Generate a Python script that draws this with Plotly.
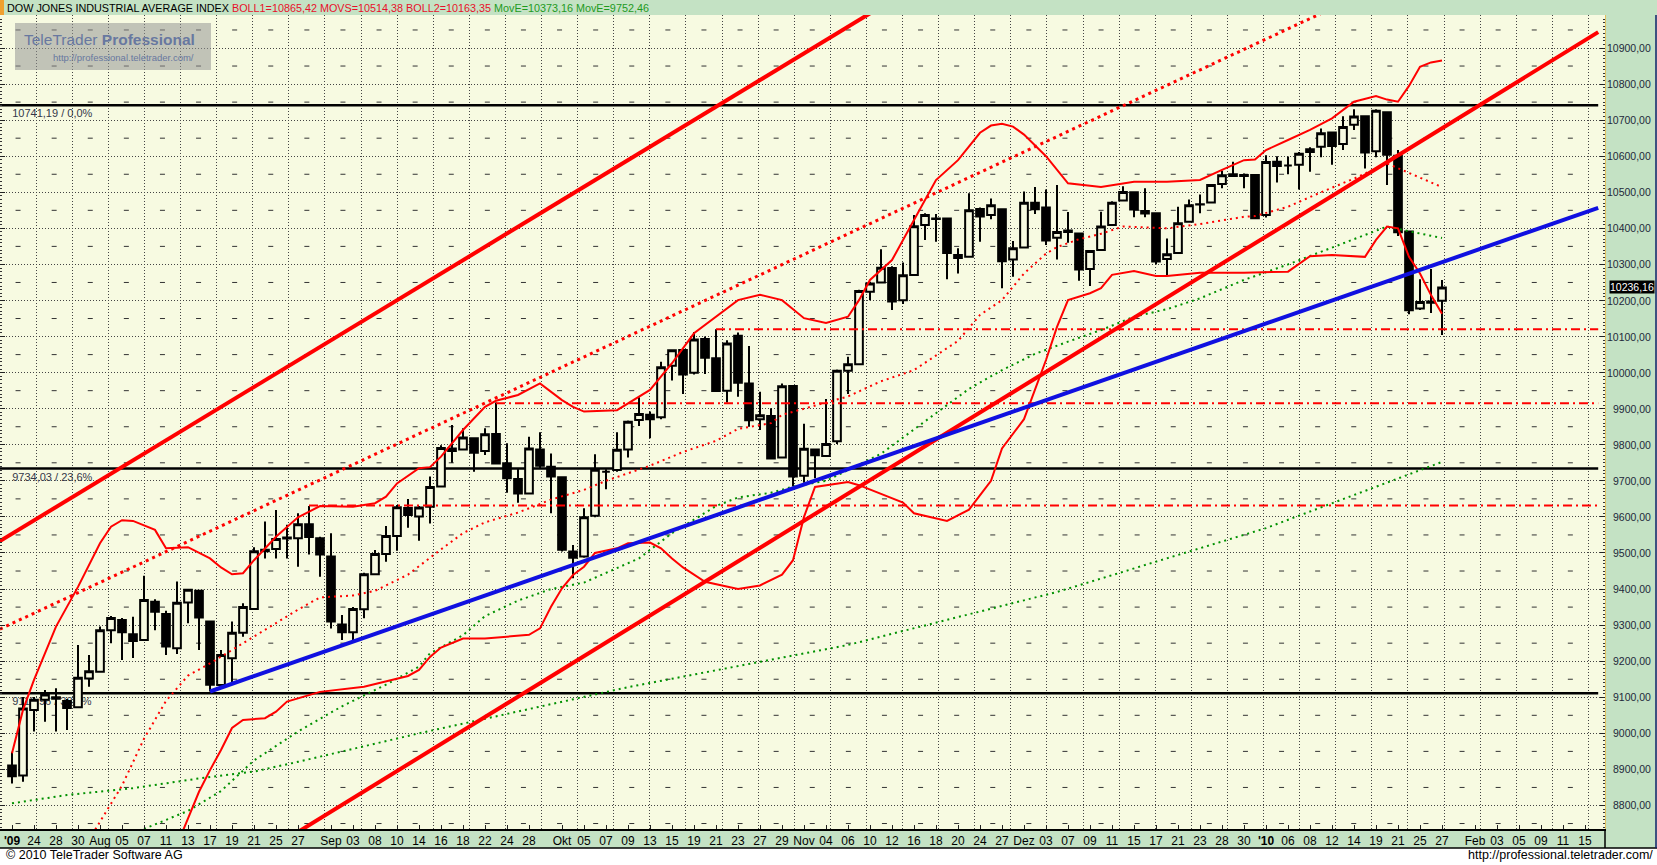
import plotly.graph_objects as go

# ---------------- DATA ----------------
trade_dates = [
    "2009-07-22","2009-07-23","2009-07-24","2009-07-27","2009-07-28","2009-07-29","2009-07-30","2009-07-31",
    "2009-08-03","2009-08-04","2009-08-05","2009-08-06","2009-08-07","2009-08-10","2009-08-11","2009-08-12",
    "2009-08-13","2009-08-14","2009-08-17","2009-08-18","2009-08-19","2009-08-20","2009-08-21","2009-08-24",
    "2009-08-25","2009-08-26","2009-08-27","2009-08-28","2009-08-31",
    "2009-09-01","2009-09-02","2009-09-03","2009-09-04","2009-09-08","2009-09-09","2009-09-10","2009-09-11",
    "2009-09-14","2009-09-15","2009-09-16","2009-09-17","2009-09-18","2009-09-21","2009-09-22","2009-09-23",
    "2009-09-24","2009-09-25","2009-09-28","2009-09-29","2009-09-30",
    "2009-10-01","2009-10-02","2009-10-05","2009-10-06","2009-10-07","2009-10-08","2009-10-09","2009-10-12",
    "2009-10-13","2009-10-14","2009-10-15","2009-10-16","2009-10-19","2009-10-20","2009-10-21","2009-10-22",
    "2009-10-23","2009-10-26","2009-10-27","2009-10-28","2009-10-29","2009-10-30",
    "2009-11-02","2009-11-03","2009-11-04","2009-11-05","2009-11-06","2009-11-09","2009-11-10","2009-11-11",
    "2009-11-12","2009-11-13","2009-11-16","2009-11-17","2009-11-18","2009-11-19","2009-11-20","2009-11-23",
    "2009-11-24","2009-11-25","2009-11-27","2009-11-30",
    "2009-12-01","2009-12-02","2009-12-03","2009-12-04","2009-12-07","2009-12-08","2009-12-09","2009-12-10",
    "2009-12-11","2009-12-14","2009-12-15","2009-12-16","2009-12-17","2009-12-18","2009-12-21","2009-12-22",
    "2009-12-23","2009-12-24","2009-12-28","2009-12-29","2009-12-30","2009-12-31",
    "2010-01-04","2010-01-05","2010-01-06","2010-01-07","2010-01-08","2010-01-11","2010-01-12","2010-01-13",
    "2010-01-14","2010-01-15","2010-01-19","2010-01-20","2010-01-21","2010-01-22","2010-01-25","2010-01-26",
    "2010-01-27",
]
future_dates = ["2010-01-28","2010-01-29","2010-02-01","2010-02-02","2010-02-03","2010-02-04","2010-02-05",
                "2010-02-08","2010-02-09","2010-02-10","2010-02-11","2010-02-12","2010-02-15"]

opens = [8911,8883,9065,9093,9100,9090,9072,9152,9171,9286,9314,9275,9259,9365,9331,9236,9363,9395,9310,9134,
         9208,9279,9345,9505,9511,9540,9541,9580,9541,9490,9302,9280,9344,9441,9497,9547,9625,9601,9628,9684,
         9790,9787,9818,9783,9830,9749,9705,9665,9787,9739,9710,9504,9490,9603,9725,9730,9787,9869,9883,9876,
         10019,10063,10000,10093,10040,9950,10102,9970,9871,9880,9765,9963,9714,9787,9769,9810,10005,10023,10224,10250,
         10290,10201,10271,10409,10427,10427,10326,10321,10454,10437,10453,10314,10347,10471,10458,10374,10394,10386,10287,10340,
         10409,10477,10500,10448,10442,10315,10332,10418,10467,10472,10523,10550,10545,10548,10437,10585,10574,10576,10612,10626,
         10666,10634,10687,10711,10614,10722,10601,10391,10178,10197,10199]
highs = [8949,9101,9101,9120,9125,9095,9245,9217,9296,9325,9320,9323,9437,9372,9340,9421,9400,9398,9312,9231,
         9310,9361,9516,9587,9619,9578,9610,9630,9545,9555,9328,9350,9445,9508,9575,9633,9650,9630,9712,9799,
         9855,9846,9820,9846,9917,9804,9735,9822,9835,9776,9712,9522,9624,9774,9732,9835,9867,9932,9892,10030,
         10063,10063,10113,10100,10120,10090,10111,10074,9947,9901,9970,9963,9858,9790,9927,10009,10044,10230,10252,10342,
         10295,10305,10437,10442,10440,10427,10345,10497,10458,10483,10455,10365,10502,10515,10508,10520,10445,10386,10340,10446,
         10475,10517,10500,10511,10442,10372,10460,10480,10494,10523,10560,10585,10552,10550,10603,10600,10599,10612,10625,10677,
         10666,10711,10730,10711,10730,10722,10617,10391,10259,10287,10257]
lows = [8861,8866,9005,9032,9005,9009,9070,9129,9171,9250,9203,9209,9259,9286,9217,9220,9305,9231,9116,9134,
        9134,9268,9345,9485,9485,9485,9462,9496,9434,9291,9259,9254,9319,9441,9476,9506,9570,9534,9582,9684,
        9750,9785,9725,9772,9745,9667,9639,9665,9735,9610,9504,9430,9487,9599,9677,9725,9765,9852,9818,9871,
        9978,9941,9995,9996,9949,9917,9933,9850,9841,9760,9762,9684,9695,9707,9769,9802,9941,10023,10201,10247,
        10174,10190,10271,10368,10363,10259,10275,10321,10363,10425,10234,10266,10347,10440,10354,10314,10360,10255,10240,10340,
        10409,10477,10431,10431,10300,10271,10332,10418,10442,10472,10511,10545,10511,10428,10430,10527,10550,10508,10557,10597,
        10576,10617,10673,10566,10597,10520,10379,10162,10174,10165,10104]
closes = [8881,9069,9093,9108,9096,9070,9154,9172,9286,9320,9280,9256,9370,9337,9241,9362,9398,9321,9135,9217,
          9279,9350,9505,9509,9539,9543,9580,9544,9496,9310,9280,9345,9441,9497,9547,9627,9605,9626,9683,9791,
          9783,9820,9778,9829,9748,9707,9665,9790,9742,9712,9509,9487,9599,9731,9725,9786,9864,9885,9871,10015,
          10062,9995,10092,10041,9949,10081,9972,9868,9882,9762,9962,9712,9789,9771,9802,10005,10023,10226,10247,10291,
          10197,10270,10406,10437,10426,10332,10318,10450,10433,10464,10309,10345,10471,10453,10366,10390,10390,10286,10337,10405,
          10471,10501,10452,10441,10308,10328,10414,10464,10466,10520,10547,10545,10548,10428,10584,10573,10574,10607,10619,10664,
          10628,10681,10710,10610,10726,10604,10389,10173,10196,10194,10236.16]

# Bollinger upper band (BOLL1)
boll_up_dates = ["2009-07-22","2009-07-23","2009-07-24","2009-07-28","2009-07-30","2009-08-03","2009-08-04","2009-08-05",
    "2009-08-06","2009-08-10","2009-08-11","2009-08-13","2009-08-17","2009-08-18","2009-08-19","2009-08-20","2009-08-21",
    "2009-08-25","2009-08-27","2009-08-31","2009-09-03","2009-09-08","2009-09-09","2009-09-10","2009-09-14","2009-09-15",
    "2009-09-16","2009-09-18","2009-09-22","2009-09-23","2009-09-25","2009-09-29","2009-10-01","2009-10-02","2009-10-05",
    "2009-10-08","2009-10-13","2009-10-15","2009-10-19","2009-10-21","2009-10-23","2009-10-27","2009-10-29","2009-11-02",
    "2009-11-04","2009-11-06","2009-11-09","2009-11-10","2009-11-12","2009-11-16","2009-11-18","2009-11-20","2009-11-24",
    "2009-11-25","2009-11-27","2009-11-30","2009-12-01","2009-12-03","2009-12-07","2009-12-10","2009-12-15","2009-12-18",
    "2009-12-23","2009-12-28","2009-12-30","2009-12-31","2010-01-04","2010-01-06","2010-01-08","2010-01-12","2010-01-14",
    "2010-01-19","2010-01-20","2010-01-21","2010-01-22","2010-01-25","2010-01-26","2010-01-27"]
boll_up_vals = [8945,9065,9148,9296,9406,9527,9573,9591,9589,9564,9513,9516,9485,9460,9441,9444,9480,9545,9599,9630,
    9628,9638,9656,9693,9735,9738,9767,9841,9905,9922,9938,9970,9924,9905,9892,9896,9952,10026,10109,10155,
    10201,10216,10201,10151,10138,10155,10201,10257,10312,10423,10534,10589,10665,10685,10690,10682,10660,10600,10525,10515,
    10529,10529,10534,10562,10589,10591,10617,10645,10673,10705,10751,10767,10757,10751,10795,10848,10860,10865.42]

# Moving average (MOVS) - middle band
movs_dates = ["2009-07-31","2009-08-05","2009-08-07","2009-08-11","2009-08-13","2009-08-17","2009-08-19","2009-08-21",
    "2009-08-27","2009-08-31","2009-09-03","2009-09-08","2009-09-11","2009-09-16","2009-09-18","2009-09-22","2009-09-25",
    "2009-09-30","2009-10-05","2009-10-07","2009-10-13","2009-10-16","2009-10-21","2009-10-23","2009-10-28","2009-10-29",
    "2009-11-03","2009-11-06","2009-11-11","2009-11-16","2009-11-20","2009-11-24","2009-11-27","2009-12-01","2009-12-03",
    "2009-12-04","2009-12-08","2009-12-10","2009-12-14","2009-12-18","2009-12-23","2009-12-30","2009-12-31","2010-01-06",
    "2010-01-11","2010-01-14","2010-01-20","2010-01-27"]
movs_vals = [8705,8855,8985,9090,9160,9194,9231,9268,9343,9377,9382,9395,9440,9510,9555,9585,9612,9648,9675,9700,
    9742,9780,9811,9844,9860,9883,9908,9934,9976,10007,10088,10160,10201,10275,10330,10348,10370,10385,10405,10400,
    10412,10432,10434,10460,10500,10538,10580,10514.38]

# Bollinger lower band (BOLL2)
boll_lo_dates = ["2009-08-12","2009-08-14","2009-08-17","2009-08-18","2009-08-19","2009-08-20","2009-08-24","2009-08-25",
    "2009-08-26","2009-08-27","2009-08-31","2009-09-04","2009-09-11","2009-09-14","2009-09-15","2009-09-16","2009-09-18",
    "2009-09-22","2009-09-24","2009-09-28","2009-09-29","2009-09-30","2009-10-01","2009-10-02","2009-10-05","2009-10-06",
    "2009-10-08","2009-10-09","2009-10-13","2009-10-14","2009-10-15","2009-10-16","2009-10-20","2009-10-23","2009-10-27",
    "2009-10-29","2009-10-30","2009-11-02","2009-11-03","2009-11-06","2009-11-09","2009-11-11","2009-11-13","2009-11-16",
    "2009-11-19","2009-11-23","2009-11-25","2009-11-27","2009-12-01","2009-12-03","2009-12-04","2009-12-07","2009-12-09",
    "2009-12-10","2009-12-11","2009-12-15","2009-12-17","2009-12-18","2009-12-23","2009-12-30","2010-01-06","2010-01-08",
    "2010-01-12","2010-01-15","2010-01-19","2010-01-20","2010-01-21","2010-01-22","2010-01-25","2010-01-26","2010-01-27"]
boll_lo_vals = [8690,8838,8898,8954,9015,9037,9042,9060,9088,9097,9115,9129,9159,9176,9212,9238,9263,9263,9268,9273,
    9291,9351,9402,9439,9462,9500,9513,9527,9529,9513,9485,9460,9420,9400,9410,9440,9480,9600,9683,9697,
    9688,9665,9640,9610,9589,9620,9700,9790,9871,10035,10127,10201,10220,10234,10271,10282,10268,10268,10277,10277,
    10280,10323,10326,10321,10368,10405,10400,10321,10275,10215,10163.35]

# Short exponential average (MovE 1)
ema_s_dates = ["2009-08-07","2009-08-13","2009-08-18","2009-08-21","2009-08-27","2009-09-02","2009-09-09","2009-09-14",
    "2009-09-15","2009-09-18","2009-09-22","2009-09-25","2009-09-30","2009-10-05","2009-10-12","2009-10-15","2009-10-21",
    "2009-10-23","2009-10-28","2009-10-30","2009-11-04","2009-11-11","2009-11-17","2009-11-23","2009-11-27","2009-12-02",
    "2009-12-07","2009-12-10","2009-12-15","2009-12-18","2009-12-23","2009-12-30","2010-01-06","2010-01-11","2010-01-14",
    "2010-01-20","2010-01-22","2010-01-27"]
ema_s_vals = [8735,8785,8840,8925,9005,9075,9135,9185,9222,9272,9325,9368,9400,9418,9485,9555,9630,9654,9667,9684,
    9700,9775,9865,9955,10007,10052,10086,10118,10155,10176,10206,10257,10300,10335,10370,10405,10392,10373.16]

# Long exponential average (MovE 2)
ema_l_dates = ["2009-07-22","2009-07-29","2009-08-06","2009-08-14","2009-08-21","2009-08-27","2009-09-14","2009-10-09",
    "2009-11-06","2009-12-04","2010-01-04","2010-01-27"]
ema_l_vals = [8806,8829,8848,8875,8894,8921,9000,9128,9245,9392,9569,9752.46]

# Fibonacci retracement levels
fib_levels = [10741.19, 9734.03, 9110.96]
fib_labels = ["10741,19 / 0,0%", "9734,03 / 23,6%", "9110,96 / 38,2%"]

# Horizontal resistance lines (start date, level)
res_start = ["2009-10-21", "2009-09-23", "2009-08-28"]
res_level = [10120, 9915, 9632]

# Trend lines: anchor (trading-session position, price)
trend_upper_pos, trend_upper_val = [-1.1, 80.0], [9533, 11033]
trend_lower_pos, trend_lower_val = [20.0, 144.2], [8614, 10944]
trend_dot_pos, trend_dot_val = [-1.1, 125.0], [9289, 11081]
trend_blue_pos, trend_blue_val = [18.0, 144.2], [9116, 10457]
line_end_pos = 144.2

tick_dates = ["2009-07-22","2009-07-24","2009-07-28","2009-07-30","2009-08-03","2009-08-05","2009-08-07","2009-08-11",
    "2009-08-13","2009-08-17","2009-08-19","2009-08-21","2009-08-25","2009-08-27","2009-09-01","2009-09-03","2009-09-08",
    "2009-09-10","2009-09-14","2009-09-16","2009-09-18","2009-09-22","2009-09-24","2009-09-28","2009-10-01","2009-10-05",
    "2009-10-07","2009-10-09","2009-10-13","2009-10-15","2009-10-19","2009-10-21","2009-10-23","2009-10-27","2009-10-29",
    "2009-11-02","2009-11-04","2009-11-06","2009-11-10","2009-11-12","2009-11-16","2009-11-18","2009-11-20","2009-11-24",
    "2009-11-27","2009-12-01","2009-12-03","2009-12-07","2009-12-09","2009-12-11","2009-12-15","2009-12-17","2009-12-21",
    "2009-12-23","2009-12-28","2009-12-30","2010-01-04","2010-01-06","2010-01-08","2010-01-12","2010-01-14","2010-01-19",
    "2010-01-21","2010-01-25","2010-01-27","2010-02-01","2010-02-03","2010-02-05","2010-02-09","2010-02-11","2010-02-15"]
tick_text = ["<b>'09</b>","24","28","30","Aug","05","07","11","13","17","19","21","25","27","Sep","03","08","10",
    "14","16","18","22","24","28","Okt","05","07","09","13","15","19","21","23","27","29","Nov","04","06","10","12",
    "16","18","20","24","27","Dez","03","07","09","11","15","17","21","23","28","30","<b>'10</b>","06","08","12","14",
    "19","21","25","27","Feb","03","05","09","11","15"]

price_ticks = list(range(8800, 11000, 100))
last_price = 10236.16
title_parts = ["DOW JONES INDUSTRIAL AVERAGE INDEX", "BOLL1=10865,42 MOVS=10514,38 BOLL2=10163,35",
               "MovE=10373,16 MovE=9752,46"]

# ---------------- GEOMETRY / STYLE ----------------
FIG_W, FIG_H = 1657, 865
PLOT_W = 1605
TOP, BOTTOM = 15, 829
PH = BOTTOM - TOP
BAR_PX, BAR0_PX = 11.0, 12.0
X_RANGE = [(0 - BAR0_PX) / BAR_PX, (PLOT_W - BAR0_PX) / BAR_PX]
Y_RANGE = [8734.8, 10991.5]
BG = "#F7FAE1"
PANEL = "#C4E2C4"
SANS = "Liberation Sans, Arial, sans-serif"
RED = "#FF0000"
GREEN = "#009000"
NBSP = "\u00a0"

def px_x(px):
    return px / PLOT_W

def px_y(py):
    return (BOTTOM - py) / PH

axis_dates = trade_dates + future_dates
pos = {d: i for i, d in enumerate(axis_dates)}
xs = [pos[d] for d in trade_dates]

fig = go.Figure()

def series(dates, vals, color, width, dash):
    fig.add_trace(go.Scatter(x=[pos[d] for d in dates], y=vals, mode="lines",
                             line=dict(color=color, width=width, dash=dash),
                             hoverinfo="skip", showlegend=False))

# resistance lines
for d, lv in zip(res_start, res_level):
    fig.add_trace(go.Scatter(x=[pos[d], line_end_pos], y=[lv, lv], mode="lines",
                             line=dict(color=RED, width=2, dash="9px,4px,2px,4px"),
                             hoverinfo="skip", showlegend=False))

fig.add_trace(go.Candlestick(
    x=xs, open=opens, high=highs, low=lows, close=closes,
    increasing=dict(line=dict(color="black", width=2), fillcolor=BG),
    decreasing=dict(line=dict(color="black", width=2), fillcolor="black"),
    whiskerwidth=0, hoverinfo="skip", showlegend=False))

series(ema_l_dates, ema_l_vals, GREEN, 2, "2px,4px")
series(ema_s_dates, ema_s_vals, GREEN, 2, "2px,4px")
series(movs_dates, movs_vals, RED, 2, "2px,4px")
series(boll_up_dates, boll_up_vals, RED, 2, "solid")
series(boll_lo_dates, boll_lo_vals, RED, 2, "solid")

for p, v, c, w, dsh in [(trend_dot_pos, trend_dot_val, RED, 3, "3px,4px"),
                        (trend_upper_pos, trend_upper_val, RED, 4, "solid"),
                        (trend_lower_pos, trend_lower_val, RED, 4, "solid"),
                        (trend_blue_pos, trend_blue_val, "#1010E0", 4, "solid")]:
    fig.add_trace(go.Scatter(x=p, y=v, mode="lines", line=dict(color=c, width=w, dash=dsh),
                             hoverinfo="skip", showlegend=False))

shapes = []
# Fibonacci lines with labels (below candles)
for lv, lab in zip(fib_levels, fib_labels):
    shapes.append(dict(type="line", xref="x", yref="y", x0=X_RANGE[0], x1=line_end_pos, y0=lv, y1=lv,
                       layer="between", line=dict(color="black", width=2.5),
                       label=dict(text=NBSP * 4 + lab, textposition="start", xanchor="left", yanchor="top",
                                  padding=1, font=dict(family=SANS, size=11, color="#34384a"))))

# small dash marks in the middle of each grid cell
vgrid_px = [36.1 * k for k in range(1, 45)]
cells_x = [(a + b) / 2 for a, b in zip([0] + vgrid_px, vgrid_px)]
path = ""
for lv in range(8750, 11000, 100):
    for cx in cells_x:
        x0 = (cx - 2.5 - BAR0_PX) / BAR_PX
        x1 = (cx + 2.5 - BAR0_PX) / BAR_PX
        path += f"M{x0:.3f},{lv} L{x1:.3f},{lv} "
shapes.append(dict(type="path", xref="x", yref="y", path=path, layer="between",
                   line=dict(color="#333333", width=1)))

# panels
shapes += [
    dict(type="rect", xref="paper", yref="paper", x0=0, x1=px_x(FIG_W), y0=px_y(TOP), y1=px_y(0),
         fillcolor=PANEL, line=dict(width=0), layer="below"),
    dict(type="rect", xref="paper", yref="paper", x0=0, x1=px_x(4), y0=px_y(TOP), y1=px_y(0),
         fillcolor="#F0A030", line=dict(width=0), layer="above"),
    dict(type="rect", xref="paper", yref="paper", x0=px_x(PLOT_W), x1=px_x(FIG_W), y0=px_y(848), y1=px_y(TOP),
         fillcolor=PANEL, line=dict(width=0), layer="below"),
    dict(type="rect", xref="paper", yref="paper", x0=0, x1=px_x(FIG_W), y0=px_y(848), y1=px_y(BOTTOM),
         fillcolor=PANEL, line=dict(width=0), layer="below"),
    dict(type="line", xref="paper", yref="paper", x0=0, x1=px_x(FIG_W), y0=px_y(848), y1=px_y(848),
         line=dict(color="black", width=1.5), layer="above"),
    dict(type="line", xref="paper", yref="paper", x0=px_x(PLOT_W + 0.5), x1=px_x(PLOT_W + 0.5), y0=px_y(TOP), y1=px_y(BOTTOM),
         line=dict(color="#E0C060", width=1), layer="above"),
    dict(type="line", xref="paper", yref="paper", x0=px_x(PLOT_W), x1=px_x(PLOT_W), y0=px_y(848), y1=px_y(BOTTOM),
         line=dict(color="black", width=1.5), layer="above"),
    dict(type="line", xref="paper", yref="paper", x0=px_x(1656), x1=px_x(1656), y0=px_y(848), y1=px_y(TOP),
         line=dict(color="#10206A", width=1.5), layer="above"),
    dict(type="rect", xref="paper", yref="paper", x0=px_x(15), x1=px_x(211), y0=px_y(70), y1=px_y(23),
         fillcolor="rgba(150,150,150,0.55)", line=dict(width=0), layer="above"),
]

ann = []
ann.append(dict(xref="paper", yref="paper", x=px_x(5), y=px_y(7.5), xanchor="left", yanchor="middle",
                showarrow=False, font=dict(family=SANS, size=10.8, color="black"),
                text=f"{title_parts[0]} <span style='color:#E8102A'>{title_parts[1]}</span> "
                     f"<span style='color:#1E9A1E'>{title_parts[2]}</span>"))
for p in price_ticks:
    ann.append(dict(xref="paper", yref="y", x=px_x(1653), y=p, xanchor="right", yanchor="middle", yshift=0,
                    showarrow=False, font=dict(family=SANS, size=10.5, color="#22283a"),
                    text=f"{p},00"))
ann.append(dict(xref="paper", yref="y", x=px_x(1655), y=last_price, xanchor="right", yanchor="middle",
                showarrow=False, bgcolor="black", borderpad=0,
                font=dict(family=SANS, size=10.5, color="white"),
                text=f"{last_price:.2f}".replace(".", ",")))
ann.append(dict(xref="paper", yref="paper", x=px_x(4), y=px_y(855), xanchor="left", yanchor="middle",
                showarrow=False, font=dict(family=SANS, size=12.5, color="black"),
                text="© 2010 TeleTrader Software AG"))
ann.append(dict(xref="paper", yref="paper", x=px_x(1655), y=px_y(855), xanchor="right", yanchor="middle",
                showarrow=False, font=dict(family=SANS, size=12.5, color="black"),
                text="http://professional.teletrader.com/"))
ann.append(dict(xref="paper", yref="paper", x=px_x(110), y=px_y(39), xanchor="center", yanchor="middle",
                showarrow=False, font=dict(family=SANS, size=15.5, color="#6878A0"),
                text="TeleTrader <b>Professional</b>"))
ann.append(dict(xref="paper", yref="paper", x=px_x(123), y=px_y(57), xanchor="center", yanchor="middle",
                showarrow=False, font=dict(family=SANS, size=9.5, color="#6878A0"),
                text="http://professional.teletrader.com/"))

fig.update_layout(
    width=FIG_W, height=FIG_H, autosize=False,
    margin=dict(l=0, r=FIG_W - PLOT_W, t=TOP, b=FIG_H - BOTTOM, pad=0),
    paper_bgcolor="white", plot_bgcolor=BG,
    showlegend=False, boxgap=0.3, boxgroupgap=0,
    shapes=shapes, annotations=ann,
    xaxis=dict(range=X_RANGE, rangeslider=dict(visible=False), showgrid=False, zeroline=False,
               tickmode="array", tickvals=[pos[d] for d in tick_dates], ticktext=tick_text,
               tickfont=dict(family=SANS, size=12, color="black"),
               ticks="inside", ticklen=4, tickcolor="#222", showline=True, linecolor="black", linewidth=2,
               minor=dict(tickmode="array", tickvals=[(v - BAR0_PX) / BAR_PX for v in vgrid_px],
                          showgrid=True, gridcolor="#444444", griddash="1px,2px", gridwidth=1, ticks="")),
    yaxis=dict(range=Y_RANGE, side="right", showticklabels=False, zeroline=False,
               showgrid=True, gridcolor="#444444", griddash="1px,2px", gridwidth=1,
               tickmode="linear", tick0=0, dtick=100, ticks="inside", ticklen=5, tickcolor="#222",
               showline=True, linecolor="#333", linewidth=1, mirror="ticks",
               minor=dict(dtick=10, ticks="inside", ticklen=2, tickcolor="#333", showgrid=False)),
)

fig.write_html("out.html", config={"displayModeBar": False},
               post_script="document.body.style.margin='0px';document.body.style.padding='0px';")
